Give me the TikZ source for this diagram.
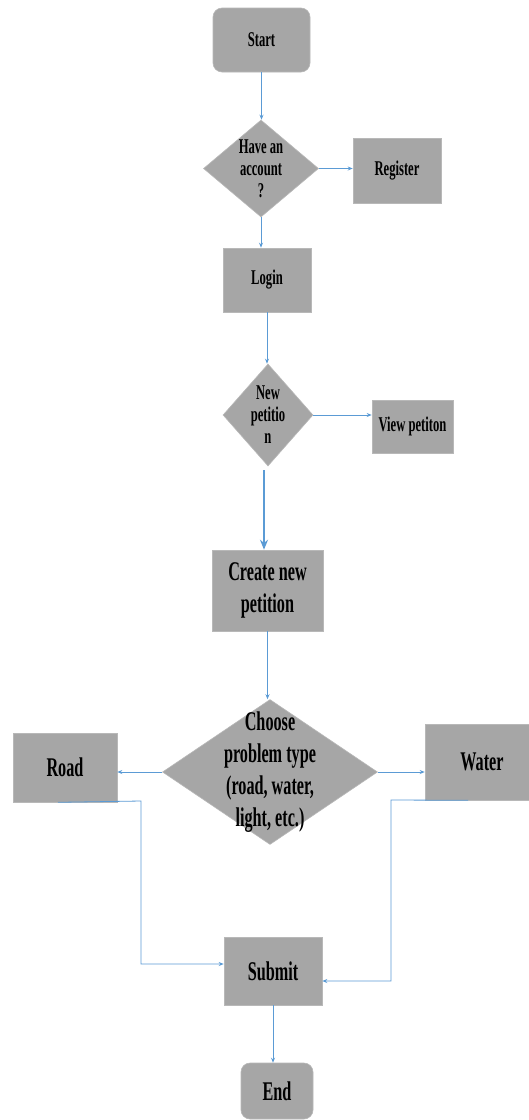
\documentclass[tikz,border=0pt]{standalone}
\usepackage{fontspec}
\setmainfont{Liberation Serif}[FakeStretch=0.6]
\usetikzlibrary{shapes.geometric,arrows.meta}
\definecolor{boxgray}{HTML}{A6A6A6}
\definecolor{edgegray}{HTML}{B8B8B8}
\definecolor{arrowblue}{HTML}{5B9BD5}
\newcommand\smallf{\fontsize{21}{22}\selectfont\bfseries}
\newcommand\largef{\fontsize{27}{32}\selectfont\bfseries}
\begin{document}
\begin{tikzpicture}[x=1pt,y=-1pt,
  box/.style={rectangle,fill=boxgray,draw=edgegray,line width=0.6pt,inner sep=0pt,align=center,font=\smallf},
  bigbox/.style={box,font=\largef},
  roundbox/.style={box,rounded corners=9pt},
  dia/.style={diamond,fill=boxgray,draw=edgegray,line width=0.6pt,inner sep=0pt},
  txt/.style={align=center,inner sep=0pt,font=\smallf},
  bigtxt/.style={txt,font=\largef},
  conn/.style={draw=arrowblue,line width=0.8pt,-{Stealth[length=5pt,width=4pt]}},
  thickconn/.style={draw=arrowblue,line width=1.5pt,-{Stealth[length=10pt,width=8pt]}}
]
\useasboundingbox (0,0) rectangle (528,1120);
\fill[white] (0,0) rectangle (528,1120);

% nodes
\node[roundbox,minimum width=97pt,minimum height=64pt] (start) at (261.5,40) {Start};
\node[dia,minimum width=115pt,minimum height=97pt] (d1) at (261,168.5) {};
\node[txt] (d1t) at (d1.center) {Have an\\account\\?};
\node[box,minimum width=88pt,minimum height=65pt] (reg) at (397,170.5) {Register};
\node[box,minimum width=88pt,minimum height=64pt] (login) at (267,280) {Login};
\node[dia,minimum width=90pt,minimum height=102pt] (d2) at (268,415) {};
\node[txt] (d2t) at (d2.center) {New\\petitio\\n};
\node[box,minimum width=81pt,minimum height=53pt] (view) at (412.5,426.5) {View petiton};
\node[bigbox,minimum width=111pt,minimum height=81pt] (create) at (267.5,590.5) {Create new\\petition};
\node[dia,minimum width=215pt,minimum height=145pt] (d3) at (270,772) {};
\node[bigtxt] (d3t) at (d3.center) {Choose\\problem type\\(road, water,\\light, etc.)};
\node[bigbox,minimum width=104pt,minimum height=69pt] (road) at (65,767.5) {Road};
\node[bigbox,minimum width=114pt,minimum height=76pt] (water) at (482,762) {Water};
\node[bigbox,minimum width=98pt,minimum height=68pt] (submit) at (273,971) {Submit};
\node[roundbox,font=\largef,minimum width=72pt,minimum height=56pt] (end) at (277,1091) {End};

% connectors
\draw[conn] (start.south) -- (start.south |- d1.north);
\draw[conn] (d1.east) -- (d1.east -| reg.west);
\draw[conn] (d1.south) -- (d1.south |- login.north);
\draw[conn] (login.south) -- (login.south |- d2.north);
\draw[conn] (d2.east) -- (d2.east -| view.west);
\draw[thickconn] ([xshift=-4pt,yshift=-4pt]d2.south) -- ([xshift=-4pt]d2.south |- create.north);
\draw[conn] (create.south) -- (create.south |- d3.north);
\draw[conn] (d3.west) -- (d3.west -| road.east);
\draw[conn] (d3.east) -- (d3.east -| water.west);
\coordinate (rc) at (141,801);
\draw[conn] ([xshift=-7pt]road.south) -- (rc) |- ([yshift=7pt]submit.west);
\coordinate (wc) at (391,800);
\draw[conn] ([xshift=-14pt]water.south) -- (wc) |- ([yshift=-10pt]submit.east);
\draw[conn] (submit.south) -- (submit.south |- end.north);
\end{tikzpicture}
\end{document}
